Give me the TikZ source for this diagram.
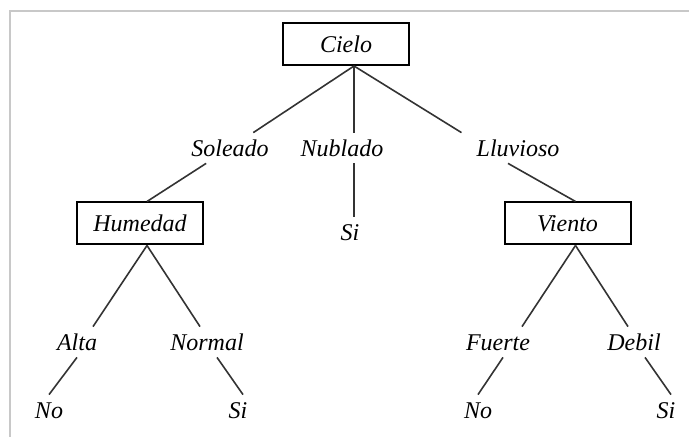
\documentclass[tikz,border=0pt]{standalone}
\usepackage{fontspec}
\setmainfont{Liberation Serif}
\usepackage{xcolor}
\usepackage{tikz}
\usetikzlibrary{arrows.meta, positioning}

\definecolor{edgegray}{HTML}{333333}
\definecolor{framegray}{HTML}{C8C8C8}

\begin{document}
\begin{tikzpicture}[
    font=\itshape\fontsize{12}{14}\selectfont,
    tag/.style={
        text height=8.2pt,
        text depth=0pt,
        inner sep=3.4pt
    },
    box/.style={
        tag,
        rectangle,
        draw,
        line width=1pt,
        minimum width=63pt,
        minimum height=21pt
    },
    edge/.style={
        draw=edgegray,
        line width=0.8pt
    }
]

\useasboundingbox (0pt,0pt) rectangle (344.5pt,-218.5pt);
\draw[framegray, line width=0.6pt] (344.5pt,-5.5pt) -- (5pt,-5.5pt) -- (5pt,-218.5pt);

\node[box] (cielo) at (173pt,-22pt) {Cielo};

\node[tag, below of=cielo, node distance=52pt, xshift=-58pt] (soleado) {Soleado};
\node[tag, below of=cielo, node distance=52pt, xshift=-2pt] (nublado) {Nublado};
\node[tag, below of=cielo, node distance=52pt, xshift=86pt] (lluvioso) {Lluvioso};

\node[box, below of=soleado, node distance=37.75pt, xshift=-45pt] (humedad) {Humedad};
\node[tag, below of=nublado, node distance=42pt, xshift=4pt] (sinublado) {Si};
\node[box, below of=lluvioso, node distance=37.75pt, xshift=24.75pt] (viento) {Viento};

\node[tag, below of=humedad, node distance=59.25pt, xshift=-31.5pt] (alta) {Alta};
\node[tag, below of=humedad, node distance=59.25pt, xshift=33.5pt] (normal) {Normal};
\node[tag, below of=viento, node distance=59.25pt, xshift=-34.75pt] (fuerte) {Fuerte};
\node[tag, below of=viento, node distance=59.25pt, xshift=33.25pt] (debil) {Debil};

\node[tag, below of=alta, node distance=34pt, xshift=-14pt] (noalta) {No};
\node[tag, below of=normal, node distance=34pt, xshift=15.5pt] (sinormal) {Si};
\node[tag, below of=fuerte, node distance=34pt, xshift=-10pt] (nofuerte) {No};
\node[tag, below of=debil, node distance=34pt, xshift=16pt] (sidebil) {Si};

\coordinate (cieloapex) at ([xshift=4pt]cielo.south);
\coordinate (humtop) at ([xshift=3.5pt]humedad.north);
\coordinate (humbot) at ([xshift=3.5pt]humedad.south);
\coordinate (vientotop) at ([xshift=4pt]viento.north);
\coordinate (vientobot) at ([xshift=4pt]viento.south);

\draw[edge] (cieloapex) -- (soleado);
\draw[edge] (cieloapex) -- (cieloapex |- nublado.north);
\draw[edge] (cieloapex) -- ([xshift=-4pt]lluvioso.north west);

\draw[edge] (soleado) -- (humtop);
\draw[edge] (cieloapex |- nublado.south) -- (cieloapex |- sinublado.north);
\draw[edge] ([xshift=-5pt]lluvioso.south) -- (vientotop);

\draw[edge] (humbot) -- ([xshift=8pt]alta.north);
\draw[edge] (humbot) -- ([xshift=-3.5pt]normal.north);
\draw[edge] (vientobot) -- ([xshift=12pt]fuerte.north);
\draw[edge] (vientobot) -- ([xshift=-3pt]debil.north);

\draw[edge] (alta.south) -- (noalta.north);
\draw[edge] ([xshift=5pt]normal.south) -- ([xshift=2.5pt]sinormal.north);
\draw[edge] ([xshift=2.5pt]fuerte.south) -- (nofuerte.north);
\draw[edge] ([xshift=5.5pt]debil.south) -- ([xshift=2.5pt]sidebil.north);

\end{tikzpicture}
\end{document}
